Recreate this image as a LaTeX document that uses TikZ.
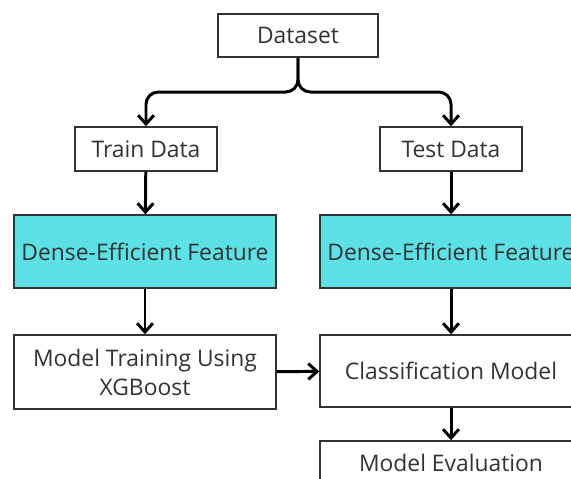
\documentclass[tikz,border=0pt]{standalone}
\usepackage{fontspec}
\setmainfont{Open Sans}
\usetikzlibrary{arrows.meta}
\definecolor{tuerkis}{HTML}{5CE1E6}
\definecolor{rand}{HTML}{333333}
\begin{document}
\begin{tikzpicture}[x=0.02cm,y=-0.02cm,
		kasten/.style={draw=rand, line width=0.85pt, text=rand, inner sep=0pt, align=center, font=\fontsize{13}{16.5}\selectfont},
		pfeil/.style={line width=1.7pt, -{Straight Barb[length=5pt,width=9pt]}}]
		% Hintergrund
		\useasboundingbox (0,0) rectangle (571,478);
		\clip (0,0) rectangle (571,478);
		\fill [white] (0,0) rectangle (571,478);
		% Kaesten oben
		\node [kasten, minimum width=3.2cm, minimum height=0.86cm] (dataset) at (298,35.5) {Dataset};
		\node [kasten, minimum width=2.84cm, minimum height=0.88cm] (train) at (146,149) {Train Data};
		\node [kasten, minimum width=2.84cm, minimum height=0.88cm] (test) at (451,149) {Test Data};
		% Merkmale
		\node [kasten, fill=tuerkis, minimum width=5.24cm, minimum height=1.46cm] (featL) at (145,251.5) {Dense-Efficient Feature};
		\node [kasten, fill=tuerkis, minimum width=5.24cm, minimum height=1.46cm] (featR) at (451,251.5) {Dense-Efficient Feature};
		% Modell
		\node [kasten, minimum width=5.24cm, minimum height=1.48cm] (training) at (145,372) {Model Training Using\\XGBoost};
		\node [kasten, minimum width=5.24cm, minimum height=1.44cm] (klass) at (451,371) {Classification Model};
		\node [kasten, minimum width=5.24cm, minimum height=0.88cm] (eval) at (451,463) {Model Evaluation};
		% Gabel
		\coordinate (gabel) at (298,92);
		\draw [pfeil, rounded corners=7pt] (dataset.south) |- (gabel -| train.north) -- (train.north);
		\draw [pfeil, rounded corners=7pt] (dataset.south) |- (gabel -| test.north) -- (test.north);
		% Pfeile
		\draw [pfeil] (train) -- (featL);
		\draw [pfeil] (featL) -- (training);
		\draw [pfeil] (test) -- (featR);
		\draw [pfeil] (featR) -- (klass);
		\draw [pfeil] (training) -- (klass);
		\draw [pfeil] (klass) -- (eval);
\end{tikzpicture}
\end{document}
